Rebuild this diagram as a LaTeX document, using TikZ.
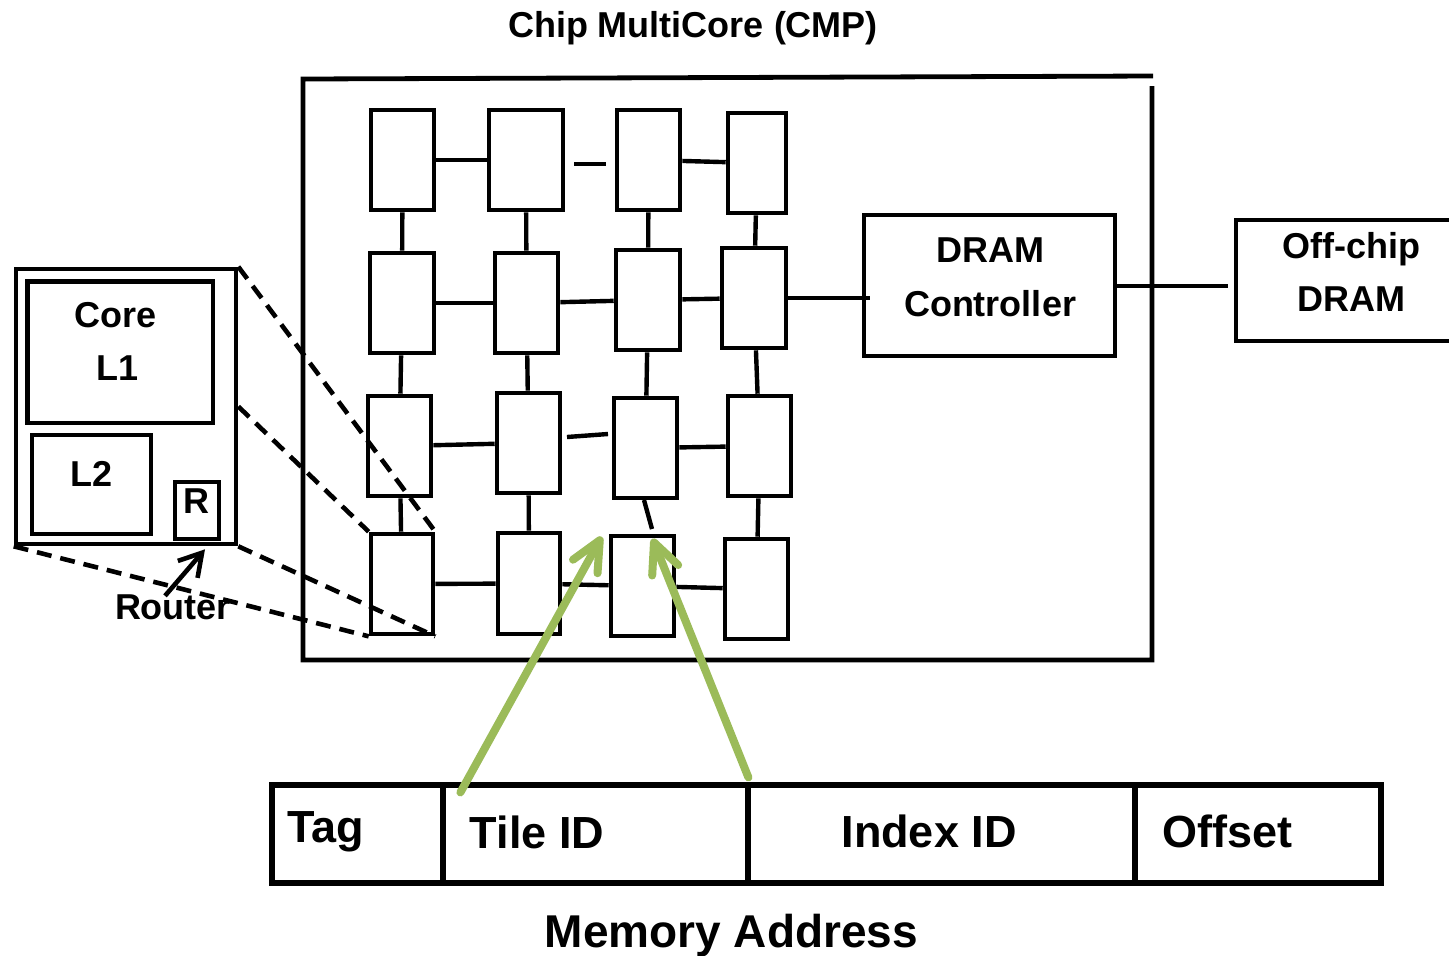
\documentclass[tikz,border=0pt]{standalone}
\usepackage{fontspec}
\setmainfont{Liberation Sans}
\usetikzlibrary{fit,arrows.meta,calc}
\definecolor{agreen}{RGB}{155,187,89}
\begin{document}
\begin{tikzpicture}[x=0.5pt,y=-0.5pt,
  box/.style={draw=black,line width=2.3pt,inner sep=0pt},
  tile/.style={box},
  link/.style={draw=black,line width=2.2pt},
  zoomline/.style={draw=black,line width=2.3pt,dash pattern=on 7.5pt off 4.5pt},
  lbl/.style={font=\bfseries\fontsize{18}{21}\selectfont,inner sep=0pt,anchor=base},
  flbl/.style={font=\bfseries\fontsize{22.5}{26}\selectfont,inner sep=0pt,anchor=base},
  mlbl/.style={font=\bfseries\fontsize{23}{27}\selectfont,inner sep=0pt,anchor=base},
  field/.style={draw=black,line width=2.6pt,inner sep=0pt},
  garrow/.style={draw=agreen,line width=4pt,line cap=round,-{Straight Barb[length=15pt,width=14pt,round]}},
  rarrow/.style={draw=black,line width=2.3pt,-{Straight Barb[length=11pt,width=13pt]}},
]
\useasboundingbox (0,0) rectangle (1449,955);
\clip (0,0) rectangle (1449,955);

% title
\node[lbl] (title) at (693,37.7) {Chip MultiCore (CMP)};

% chip outline
\draw[line width=2.4pt] (1152,86) -- (1152,660) -- (303,660) -- (303,79) -- (1153,76);

% tiles
\node[tile,fit={(371,110)(434,210)}] (t11) {};
\node[tile,fit={(489,110)(563,210)}] (t12) {};
\node[tile,fit={(617,110)(680,210)}] (t13) {};
\node[tile,fit={(728,113)(786,213)}] (t14) {};
\node[tile,fit={(370,253)(434,353)}] (t21) {};
\node[tile,fit={(495,253)(558,353)}] (t22) {};
\node[tile,fit={(616,250)(680,350)}] (t23) {};
\node[tile,fit={(722,248)(786,348)}] (t24) {};
\node[tile,fit={(368,396)(431,496)}] (t31) {};
\node[tile,fit={(497,393)(560,493)}] (t32) {};
\node[tile,fit={(614,398)(677,498)}] (t33) {};
\node[tile,fit={(728,396)(791,496)}] (t34) {};
\node[tile,fit={(371,534)(433,634)}] (t41) {};
\node[tile,fit={(498,533)(560,634)}] (t42) {};
\node[tile,fit={(611,536)(674,636)}] (t43) {};
\node[tile,fit={(725,539)(788,639)}] (t44) {};

% mesh links
\draw[link] (t11) -- (t12);
\draw[link] (t13) -- (t14);
\draw[link] (t21) -- (t22);
\draw[link] (t22) -- (t23);
\draw[link] (t23) -- (t24);
\draw[link] (t31) -- (t32);
\draw[link] (t33) -- (t34);
\draw[link] (t41) -- (t42);
\draw[link] (t42) -- (t43);
\draw[link] (t43) -- (t44);
\draw[link] (t11) -- (t21);
\draw[link] (t12) -- (t22);
\draw[link] (t13) -- (t23);
\draw[link] (t14) -- (t24);
\draw[link] (t21) -- (t31);
\draw[link] (t22) -- (t32);
\draw[link] (t23) -- (t33);
\draw[link] (t24) -- (t34);
\draw[link] (t31) -- (t41);
\draw[link] (t32) -- (t42);
\draw[link] (t34) -- (t44);
\coordinate (g1a) at (574,164);
\coordinate (g1b) at (606,164);
\draw[link] (g1a) -- (g1b);
\coordinate (g3a) at (567,437);
\coordinate (g3b) at (608,434);
\draw[link] (g3a) -- (g3b);
\coordinate (g4a) at (644,500);
\coordinate (g4b) at (652,529);
\draw[link] (g4a) -- (g4b);

% DRAM controller
\node[box,fit={(864,215)(1115,356)}] (dram) {};
\node[lbl] (dramt1) at (990,262) {DRAM};
\node[lbl] (dramt2) at (990,316) {Controller};
\draw[link] (t24.east) -- ($(t24.east -| dram.west)+(8,0)$);

% off-chip DRAM
\node[box,fit={(1236,220)(1475,341)}] (offchip) {};
\node[lbl] (offt1) at (1351,258) {Off-chip};
\node[lbl] (offt2) at (1351,311) {DRAM};
\coordinate (oc) at (1228,286);
\draw[link] (dram.east |- oc) -- (oc);

% zoomed tile
\node[box,fit={(16,269)(236,544)}] (ztile) {};
\node[box,fit={(27.5,281.5)(213,423)}] (core) {};
\node[box,fit={(32,435)(151,534)}] (l2) {};
\node[box,fit={(175,482)(219,539)}] (rbox) {};
\node[lbl] (coret) at (115.5,327) {Core};
\node[lbl] (l1t) at (118,380) {L1};
\node[lbl] (l2t) at (91.7,486) {L2};
\node[lbl] (rt) at (196.7,513) {R};
\node[lbl] (router) at (173,619) {Router};
\draw[rarrow] ($(router.north)+(-8,2)$) -- ($(rbox.south)+(8,8)$);

% zoom lines
\draw[zoomline] (ztile.north east) -- (t41.north east);
\draw[zoomline] (ztile.east) -- (t41.north west);
\draw[zoomline] (ztile.south east) -- (t41.south east);
\draw[zoomline] (ztile.south west) -- (t41.south west);

% memory address
\node[field,fit={(272,785)(443,883)}] (ftag) {};
\node[field,fit={(443,785)(748,883)}] (ftile) {};
\node[field,fit={(748,785)(1135,883)}] (findex) {};
\node[field,fit={(1135,785)(1381,883)}] (foffset) {};
\node[flbl] (tagt) at (326,842) {Tag};
\node[flbl] (tilet) at (537,848) {Tile ID};
\node[flbl] (indext) at (929,847) {Index ID};
\node[flbl] (offsett) at (1227.5,847) {Offset};
\node[mlbl] (memt) at (731.5,947) {Memory Address};

% green arrows
\draw[garrow] ($(ftile.north west)+(20,10)$) -- ($(t43.north west)+(-7,3)$);
\draw[garrow] ($(findex.north west)+(3,-5)$) -- ($(t43.north)+(10,5)$);
\end{tikzpicture}
\end{document}
